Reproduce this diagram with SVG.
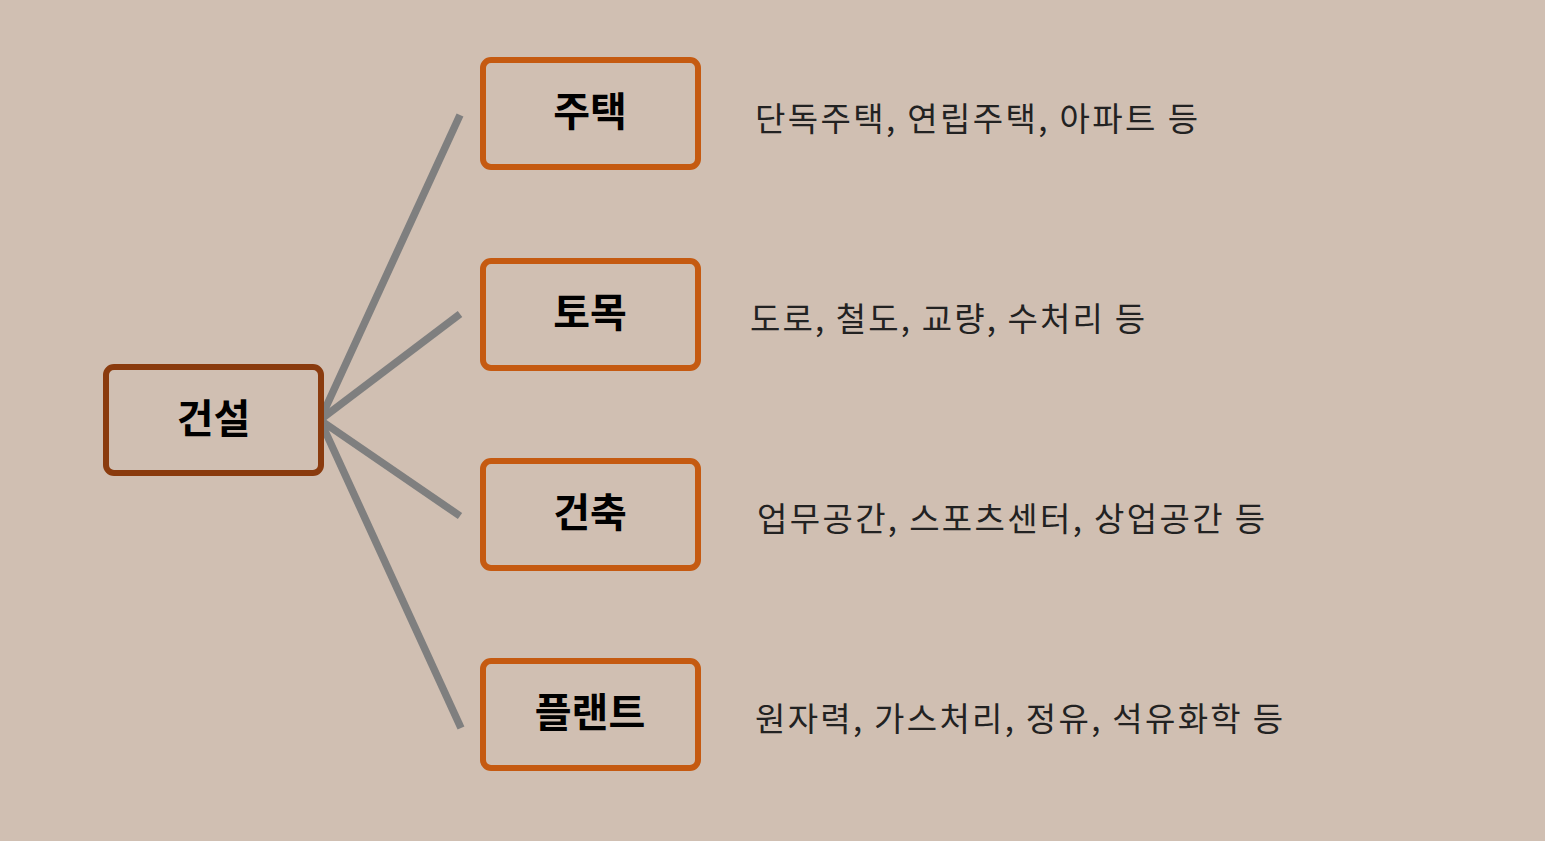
<svg xmlns="http://www.w3.org/2000/svg" width="1545" height="841" viewBox="0 0 1545 841">
<style>
.bg{fill:#D0BFB2}
.root{fill:#D0BFB2;stroke:#8A3B0E;stroke-width:6}
.child{fill:#D0BFB2;stroke:#C55A11;stroke-width:6}
.lbl{font-family:"Noto Sans CJK KR","Noto Sans",sans-serif;font-weight:bold;font-size:40px;fill:#000;text-anchor:middle;dominant-baseline:central}
.desc{font-family:"Noto Sans CJK KR","Noto Sans",sans-serif;font-size:33px;fill:#222;dominant-baseline:central}
.conn line{stroke:#7F7F7F;stroke-width:7.5}
</style>
<rect class="bg" x="0" y="0" width="1545" height="841"/>
<g class="conn" id="connectors">
<line x1="320" y1="420" x2="460" y2="115"/>
<line x1="320" y1="420" x2="460" y2="314"/>
<line x1="320" y1="420" x2="460" y2="516"/>
<line x1="320" y1="420" x2="461" y2="728"/>
</g>
<g id="node-root">
<rect class="root" x="106" y="367" width="215" height="106" rx="8"/>
<text class="lbl" x="213.5" y="416">건설</text>
</g>
<g id="node-housing">
<rect class="child" x="483" y="60" width="215" height="107" rx="8"/>
<text class="lbl" x="590" y="109">주택</text>
<text class="desc" x="755" y="117" textLength="443" lengthAdjust="spacing">단독주택, 연립주택, 아파트 등</text>
</g>
<g id="node-civil">
<rect class="child" x="483" y="261" width="215" height="107" rx="8"/>
<text class="lbl" x="590" y="310">토목</text>
<text class="desc" x="750" y="317" textLength="395" lengthAdjust="spacing">도로, 철도, 교량, 수처리 등</text>
</g>
<g id="node-arch">
<rect class="child" x="483" y="461" width="215" height="107" rx="8"/>
<text class="lbl" x="590" y="510">건축</text>
<text class="desc" x="757" y="517" textLength="508" lengthAdjust="spacing">업무공간, 스포츠센터, 상업공간 등</text>
</g>
<g id="node-plant">
<rect class="child" x="483" y="661" width="215" height="107" rx="8"/>
<text class="lbl" x="590" y="710">플랜트</text>
<text class="desc" x="755" y="717" textLength="528" lengthAdjust="spacing">원자력, 가스처리, 정유, 석유화학 등</text>
</g>
</svg>
